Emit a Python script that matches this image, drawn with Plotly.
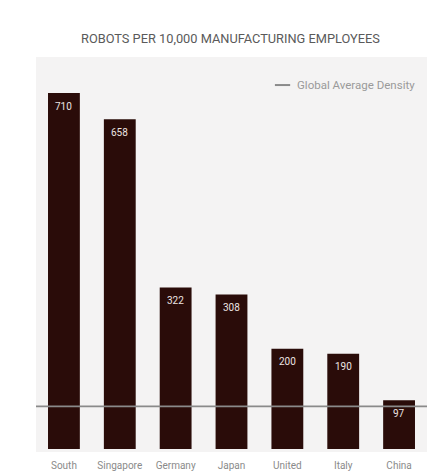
import plotly.graph_objects as go

countries = ["South", "Singapore", "Germany", "Japan", "United", "Italy", "China"]
density = [710, 658, 322, 308, 200, 190, 97]
global_average = 85
chart_title = "ROBOTS PER 10,000 MANUFACTURING EMPLOYEES"
legend_label = "Global Average Density"

xs = list(range(len(countries)))

fig = go.Figure()
fig.add_trace(go.Bar(
    x=xs, y=density,
    marker=dict(color="#2a0c09", line=dict(width=0)),
    width=0.57,
    showlegend=False,
    hoverinfo="skip",
))
fig.add_trace(go.Scatter(
    x=[-0.5, len(countries) - 0.5], y=[global_average, global_average],
    mode="lines",
    line=dict(color="#8a8a8a", width=1.6),
    showlegend=False,
    hoverinfo="skip",
))

annotations = [
    dict(text=chart_title, xref="paper", yref="paper", x=0.497, y=1.0,
         yshift=19, xanchor="center", yanchor="middle", showarrow=False,
         font=dict(size=12.8, color="#5a5a5a", family="Roboto")),
    dict(text=legend_label, xref="paper", yref="paper",
         x=0.662, y=0.929, xanchor="left", yanchor="middle",
         showarrow=False, font=dict(size=11.5, color="#9a9a9a", family="Roboto")),
]
for xi, v in zip(xs, density):
    annotations.append(dict(
        text=str(v), x=xi, y=v, xref="x", yref="y", yshift=-13,
        xanchor="center", yanchor="middle", showarrow=False,
        font=dict(size=10, color="#ece4e2", family="Roboto"),
    ))

fig.update_layout(
    width=439, height=473,
    margin=dict(l=36, r=12, t=57, b=21, autoexpand=False),
    paper_bgcolor="white",
    plot_bgcolor="#f4f3f3",
    font=dict(family="Roboto", color="#777"),
    xaxis=dict(
        range=[-0.5, len(countries) - 0.5],
        tickvals=xs, ticktext=countries,
        showgrid=False, zeroline=False, showline=False, automargin=False,
        ticks="", tickfont=dict(size=10, color="#8a8a8a"),
        ticklabelstandoff=6,
    ),
    yaxis=dict(
        range=[-6, 782], visible=False, showgrid=False, zeroline=False,
        automargin=False,
    ),
    shapes=[dict(type="line", xref="paper", yref="paper",
                 x0=0.611, x1=0.65, y0=0.929, y1=0.929,
                 line=dict(color="#8a8a8a", width=2))],
    annotations=annotations,
)

fig.write_html("out.html")
